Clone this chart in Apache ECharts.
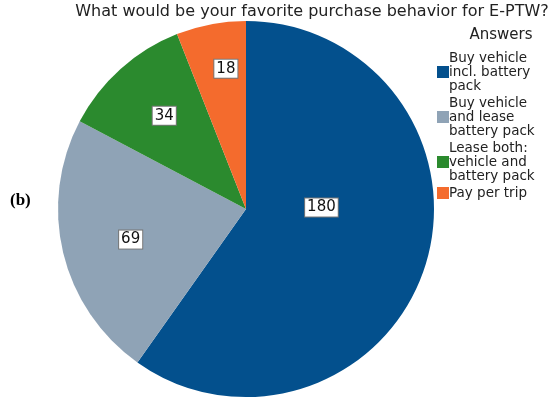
<!DOCTYPE html>
<html><head><meta charset="utf-8">
<script src="https://cdn.jsdelivr.net/npm/echarts@6/dist/echarts.min.js"></script>
<style>html,body{margin:0;padding:0;background:#fff}#c{width:550px;height:400px}</style>
</head><body><div id="c"></div>
<script>
const categories = ["Buy vehicle\nincl. battery\npack", "Buy vehicle\nand lease\nbattery pack", "Lease both:\nvehicle and\nbattery pack", "Pay per trip"];
const counts = [180, 69, 34, 18];
const colors = ["#03508D", "#8FA3B6", "#2B8A2E", "#F46B2D"];
const labelOffsets = [[-17, -31], [-21, 8], [-17, -21], [-2, -45]];
const titleText = "What would be your favorite purchase behavior for E-PTW?";
const legendTitle = "Answers";
const panelTag = "(b)";

const chart = echarts.init(document.getElementById('c'), null, {renderer: 'canvas'});
chart.setOption({
  animation: false,
  color: colors,
  title: [
    {text: titleText, left: 307, textAlign: 'center', top: -1,
     textStyle: {fontFamily: 'DejaVu Sans', fontSize: 16, fontWeight: 'normal', color: '#222'}},
    {text: legendTitle, left: 496, textAlign: 'center', top: 23,
     textStyle: {fontFamily: 'DejaVu Sans', fontSize: 15, fontWeight: 'normal', color: '#222'}},
    {text: panelTag, left: 5, top: 187,
     textStyle: {fontFamily: 'Liberation Serif', fontSize: 17, fontWeight: 'bold', color: '#000'}}
  ],
  legend: {
    orient: 'vertical', left: 432, top: 46,
    itemWidth: 12, itemHeight: 12, itemGap: 3,
    icon: 'rect',
    textStyle: {fontFamily: 'DejaVu Sans', fontSize: 13.5, lineHeight: 14, color: '#222', padding: [0,0,0,-5]},
    data: categories
  },
  series: [{
    type: 'pie',
    center: [246, 209],
    radius: [0, 188],
    startAngle: 90,
    clockwise: true,
    avoidLabelOverlap: false,
    itemStyle: {borderWidth: 0},
    label: {
      show: true, position: 'inside',
      formatter: '{c}',
      fontFamily: 'DejaVu Sans', fontSize: 15, color: '#111',
      backgroundColor: '#fff', borderColor: '#777', borderWidth: 1,
      padding: [2, 2, 1, 2]
    },
    labelLine: {show: false},
    emphasis: {disabled: true},
    data: categories.map((n, i) => ({name: n, value: counts[i], label: {offset: labelOffsets[i]}}))
  }]
});
</script></body></html>
